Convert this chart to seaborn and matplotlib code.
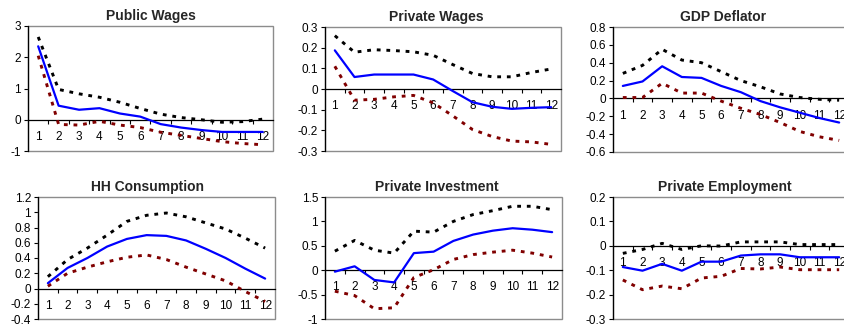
import numpy as np
import pandas as pd
import matplotlib
matplotlib.use("Agg")
import matplotlib.pyplot as plt
from matplotlib.patches import Rectangle
from matplotlib.ticker import FixedLocator, FuncFormatter
import seaborn as sns

# Impulse responses over 12 periods: point estimate with upper/lower bands
periods = list(range(1, 13))

titles = ["Public Wages", "Private Wages", "GDP Deflator",
          "HH Consumption", "Private Investment", "Private Employment"]

public_wages_mid = [2.35, 0.45, 0.32, 0.37, 0.20, 0.10, -0.14, -0.25, -0.33, -0.39, -0.39, -0.39]
public_wages_up = [2.65, 0.97, 0.83, 0.72, 0.56, 0.36, 0.18, 0.07, 0.0, -0.08, -0.06, 0.02]
public_wages_lo = [2.05, -0.15, -0.17, -0.05, -0.17, -0.25, -0.40, -0.50, -0.60, -0.70, -0.76, -0.80]

private_wages_mid = [0.187, 0.058, 0.07, 0.07, 0.07, 0.046, -0.01, -0.064, -0.086, -0.096, -0.091, -0.088]
private_wages_up = [0.258, 0.178, 0.19, 0.186, 0.18, 0.163, 0.118, 0.075, 0.059, 0.059, 0.08, 0.097]
private_wages_lo = [0.11, -0.054, -0.05, -0.038, -0.031, -0.067, -0.13, -0.196, -0.23, -0.252, -0.256, -0.268]

gdp_deflator_mid = [0.14, 0.19, 0.36, 0.24, 0.23, 0.14, 0.07, -0.03, -0.10, -0.16, -0.22, -0.27]
gdp_deflator_up = [0.28, 0.37, 0.55, 0.43, 0.40, 0.30, 0.20, 0.13, 0.05, 0.01, -0.01, -0.02]
gdp_deflator_lo = [0.01, 0.01, 0.17, 0.06, 0.06, -0.03, -0.11, -0.18, -0.27, -0.37, -0.43, -0.47]

hh_consumption_mid = [0.07, 0.27, 0.40, 0.55, 0.65, 0.70, 0.69, 0.63, 0.52, 0.40, 0.26, 0.13]
hh_consumption_up = [0.155, 0.38, 0.53, 0.70, 0.88, 0.96, 0.99, 0.94, 0.86, 0.78, 0.66, 0.53]
hh_consumption_lo = [0.03, 0.20, 0.28, 0.35, 0.41, 0.44, 0.38, 0.28, 0.19, 0.10, -0.04, -0.17]

private_investment_mid = [-0.03, 0.08, -0.20, -0.25, 0.35, 0.38, 0.60, 0.73, 0.81, 0.86, 0.83, 0.78]
private_investment_up = [0.39, 0.61, 0.41, 0.35, 0.80, 0.78, 1.00, 1.14, 1.22, 1.31, 1.31, 1.24]
private_investment_lo = [-0.43, -0.52, -0.79, -0.77, -0.15, 0.01, 0.22, 0.32, 0.37, 0.41, 0.35, 0.27]

private_employment_mid = [-0.087, -0.102, -0.074, -0.102, -0.065, -0.065, -0.04, -0.035, -0.035, -0.047, -0.047, -0.047]
private_employment_up = [-0.031, -0.015, 0.01, -0.015, 0.0, -0.001, 0.016, 0.016, 0.016, 0.005, 0.005, 0.005]
private_employment_lo = [-0.14, -0.18, -0.165, -0.176, -0.132, -0.125, -0.093, -0.095, -0.087, -0.098, -0.098, -0.098]

mids = [public_wages_mid, private_wages_mid, gdp_deflator_mid,
        hh_consumption_mid, private_investment_mid, private_employment_mid]
ups = [public_wages_up, private_wages_up, gdp_deflator_up,
       hh_consumption_up, private_investment_up, private_employment_up]
los = [public_wages_lo, private_wages_lo, gdp_deflator_lo,
       hh_consumption_lo, private_investment_lo, private_employment_lo]

y_ticks = [
    [-1, 0, 1, 2, 3],
    [-0.3, -0.2, -0.1, 0, 0.1, 0.2, 0.3],
    [-0.6, -0.4, -0.2, 0, 0.2, 0.4, 0.6, 0.8],
    [-0.4, -0.2, 0, 0.2, 0.4, 0.6, 0.8, 1.0, 1.2],
    [-1, -0.5, 0, 0.5, 1, 1.5],
    [-0.3, -0.2, -0.1, 0, 0.1, 0.2],
]

# plot-area boxes in pixels: left, top, right, bottom
W, H = 845, 325
boxes = [
    (28, 26, 273, 151), (325, 27, 561, 151), (613, 27, 849, 152),
    (38, 197, 275, 319), (325, 197, 562, 319), (613, 197, 849, 319),
]
title_x = [0.5, 0.47, 0.466, 0.46, 0.47, 0.475]

sns.set_theme(style="white")
plt.rcParams["font.family"] = ["Liberation Sans", "DejaVu Sans"]

fig = plt.figure(figsize=(W / 100, H / 100), dpi=100)
fig.patch.set_facecolor("white")

band_style = dict(lw=2.1, linestyle=(0, (1.3, 2.0)))

for i in range(6):
    l, t, r, b = boxes[i]
    ax = fig.add_axes([l / W, 1 - b / H, (r - l) / W, (b - t) / H])
    ax.set_facecolor("white")

    df = pd.DataFrame({"period": periods, "mid": mids[i], "up": ups[i], "lo": los[i]})
    sns.lineplot(data=df, x="period", y="up", ax=ax, color="black", **band_style, zorder=3)
    sns.lineplot(data=df, x="period", y="lo", ax=ax, color="#800000", **band_style, zorder=3)
    sns.lineplot(data=df, x="period", y="mid", ax=ax, color="#0000FF", lw=1.6, zorder=4)

    yt = y_ticks[i]
    ax.set_xlim(0.5, 12.5)
    ax.set_ylim(yt[0], yt[-1])
    ax.set_xlabel("")
    ax.set_ylabel("")

    # gray plot-area frame
    ax.add_patch(Rectangle((0, 0), 1, 1, transform=ax.transAxes, fill=False,
                           ec="#8c8c8c", lw=1.0, zorder=1, clip_on=False))
    for side in ("top", "right"):
        ax.spines[side].set_visible(False)
    ax.spines["left"].set_color("black")
    ax.spines["left"].set_linewidth(0.9)
    ax.spines["left"].set_zorder(5)
    ax.spines["bottom"].set_position(("data", 0))
    ax.spines["bottom"].set_color("black")
    ax.spines["bottom"].set_linewidth(0.9)

    ax.yaxis.set_major_locator(FixedLocator(yt))
    ax.yaxis.set_major_formatter(FuncFormatter(lambda v, p: f"{v:g}"))
    ax.tick_params(axis="y", direction="out", length=3, width=0.8, color="black",
                   labelsize=8.5, pad=2, labelcolor="black", left=True)

    ax.xaxis.set_major_locator(FixedLocator(periods))
    ax.set_xticklabels([str(p) for p in periods])
    ax.xaxis.set_minor_locator(FixedLocator([p + 0.5 for p in periods[:-1]]))
    ax.tick_params(axis="x", which="major", length=0, labelsize=8.5, pad=8,
                   labelcolor="black", bottom=True)
    ax.tick_params(axis="x", which="minor", direction="out", length=3, width=0.8,
                   color="black", bottom=True)

    ax.set_title(titles[i], fontsize=10, fontweight="bold", x=title_x[i], pad=4)
    ax.grid(False)

fig.savefig("out.png", dpi=100, facecolor="white")
